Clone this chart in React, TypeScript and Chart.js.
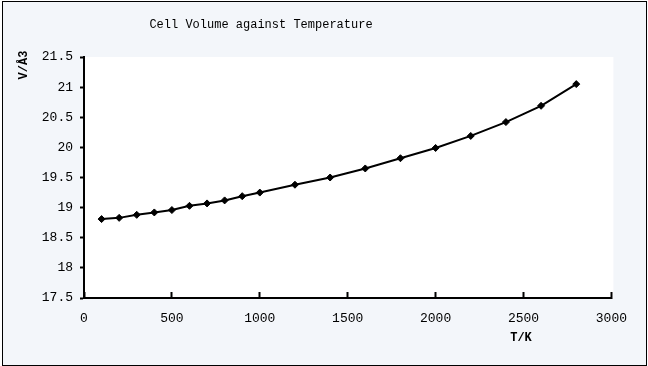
import React, { useEffect, useRef } from "react";
import { Chart, registerables } from "chart.js";

Chart.register(...registerables);

const temperatures = [100, 200, 300, 400, 500, 600, 700, 800, 900, 1000, 1200, 1400, 1600, 1800, 2000, 2200, 2400, 2600, 2800];
const volumes = [18.81, 18.83, 18.88, 18.92, 18.96, 19.03, 19.07, 19.12, 19.19, 19.25, 19.38, 19.5, 19.65, 19.82, 19.99, 20.19, 20.42, 20.69, 21.05];
const chartTitle = "Cell Volume against Temperature";
const yTitle = "V/Å3";
const xTitle = "T/K";

const FONT = "'Liberation Mono', 'DejaVu Sans Mono', monospace";

const decor = {
  id: "decor",
  beforeDraw(chart: any) {
    const { ctx, chartArea } = chart;
    ctx.save();
    ctx.fillStyle = "#ffffff";
    ctx.fillRect(chartArea.left, chartArea.top, chartArea.right - chartArea.left + 2, chartArea.bottom - chartArea.top);
    ctx.restore();
  },
  afterDraw(chart: any) {
    const { ctx, chartArea } = chart;
    ctx.save();
    ctx.fillStyle = "#000";
    ctx.textAlign = "center";
    ctx.textBaseline = "middle";
    ctx.font = `12px ${FONT}`;
    ctx.fillText(chartTitle, chartArea.left + 177, 23);
    ctx.font = `bold 12px ${FONT}`;
    ctx.fillText(xTitle, chartArea.left + 437, chartArea.bottom + 40);
    ctx.translate(21, chartArea.top + 8);
    ctx.rotate(-Math.PI / 2);
    ctx.fillText(yTitle, 0, 0);
    ctx.restore();
  },
};

export default function App() {
  const ref = useRef<HTMLCanvasElement>(null);
  useEffect(() => {
    if (!ref.current) return;
    const chart = new Chart(ref.current, {
      type: "line",
      data: {
        datasets: [
          {
            data: temperatures.map((t, i) => ({ x: t, y: volumes[i] })),
            borderColor: "#000",
            backgroundColor: "#000",
            borderWidth: 2,
            pointStyle: "rectRot",
            pointRadius: 3.5,
            pointBorderWidth: 1,
            tension: 0,
            fill: false,
          },
        ],
      },
      options: {
        animation: false,
        responsive: false,
        devicePixelRatio: 1,
        layout: { padding: { top: 55, right: 32, left: 0, bottom: 0 } },
        plugins: { legend: { display: false }, title: { display: false }, tooltip: { enabled: false } },
        scales: {
          x: {
            type: "linear",
            min: 0,
            max: 3000,
            afterFit: (s: any) => { s.height = 67; },
            ticks: {
              stepSize: 500,
              color: "#000",
              font: { family: FONT, size: 13 },
              padding: 19,
              maxRotation: 0,
              callback: (v: any) => String(v),
            },
            grid: { drawOnChartArea: false, color: "#000", tickLength: -6, tickWidth: 2 },
            border: { display: true, color: "#000", width: 2 },
          },
          y: {
            type: "linear",
            min: 17.5,
            max: 21.5,
            afterFit: (s: any) => { s.width = 81; },
            ticks: {
              stepSize: 0.5,
              color: "#000",
              font: { family: FONT, size: 13 },
              padding: 7,
              callback: (v: any) => String(v),
            },
            grid: { drawOnChartArea: false, color: "#000", tickLength: 4, tickWidth: 2 },
            border: { display: true, color: "#000", width: 2 },
          },
        },
      },
      plugins: [decor],
    });
    return () => chart.destroy();
  }, []);
  return (
    <div style={{ position: "fixed", left: 0, top: 0, width: 648, height: 366, background: "#fff" }}>
      <div
        style={{
          position: "absolute",
          left: 2,
          top: 1,
          width: 645,
          height: 365,
          border: "1px solid #000",
          boxSizing: "border-box",
          background: "#f3f6fa",
        }}
      >
        <canvas ref={ref} width={643} height={363} style={{ display: "block" }} />
      </div>
    </div>
  );
}
